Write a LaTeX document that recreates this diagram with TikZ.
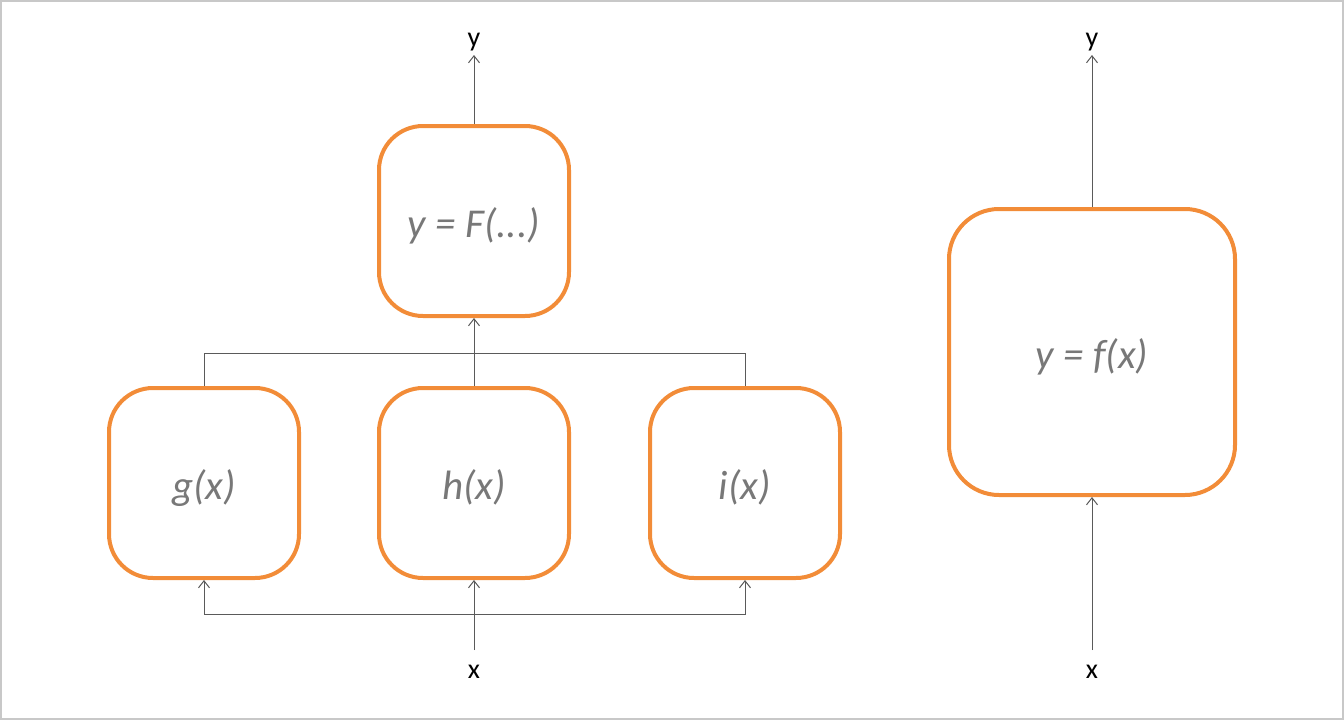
\documentclass[tikz,border=0pt]{standalone}
\usepackage{fontspec}
\setmainfont{Carlito}
\usetikzlibrary{arrows.meta}
\definecolor{boxorange}{RGB}{242,140,56}
\definecolor{txtgray}{RGB}{120,120,120}
\definecolor{linegray}{RGB}{90,90,90}
\definecolor{framegray}{RGB}{200,200,200}
\begin{document}
\begin{tikzpicture}[x=1pt,y=-1pt,
  fn/.style={draw=boxorange, line width=4pt, rounded corners=44pt, minimum width=190pt, minimum height=190pt, inner sep=0pt, text height=41pt, text depth=8pt, font=\fontsize{41}{44}\selectfont\itshape, text=txtgray},
  bigfn/.style={fn, minimum width=286pt, minimum height=286pt, rounded corners=50pt},
  io/.style={inner sep=0pt, font=\fontsize{28}{30}\selectfont, text=black},
  conn/.style={draw=linegray, line width=1pt},
  arr/.style={conn, -{Straight Barb[length=7pt,width=11pt]}}]
\draw[framegray, line width=2pt] (1,1) rectangle (1343,719);
\useasboundingbox (0,0) rectangle (1344,720);
% left
\node[fn] (F) at (474,221) {y = F(...)};
\node[fn] (g) at (204,483) {g(x)};
\node[fn] (h) at (474,483) {h(x)};
\node[fn] (i) at (745,483) {i(x)};
\node[io] (yL) at (474,42) {y};
\node[io] (xL) at (474,672) {x};
\coordinate (xLs) at (474,650);
\coordinate (yLe) at (474,55);
\draw[arr] (F.north) -- (yLe);
\draw[arr] (h.north) -- (F.south);
\draw[conn] (g.north) |- (474,353);
\draw[conn] (i.north) |- (474,353);
\draw[arr] (xLs) -- (h.south);
\draw[arr] (474,614) -| (g.south);
\draw[arr] (474,614) -| (i.south);
% right
\node[bigfn] (f) at (1092,352) {y = f(x)};
\node[io] (yR) at (1092,42) {y};
\node[io] (xR) at (1092,672) {x};
\coordinate (xRs) at (1092,650);
\coordinate (yRe) at (1092,55);
\draw[arr] (xRs) -- (f.south);
\draw[arr] (f.north) -- (yRe);
\end{tikzpicture}
\end{document}
